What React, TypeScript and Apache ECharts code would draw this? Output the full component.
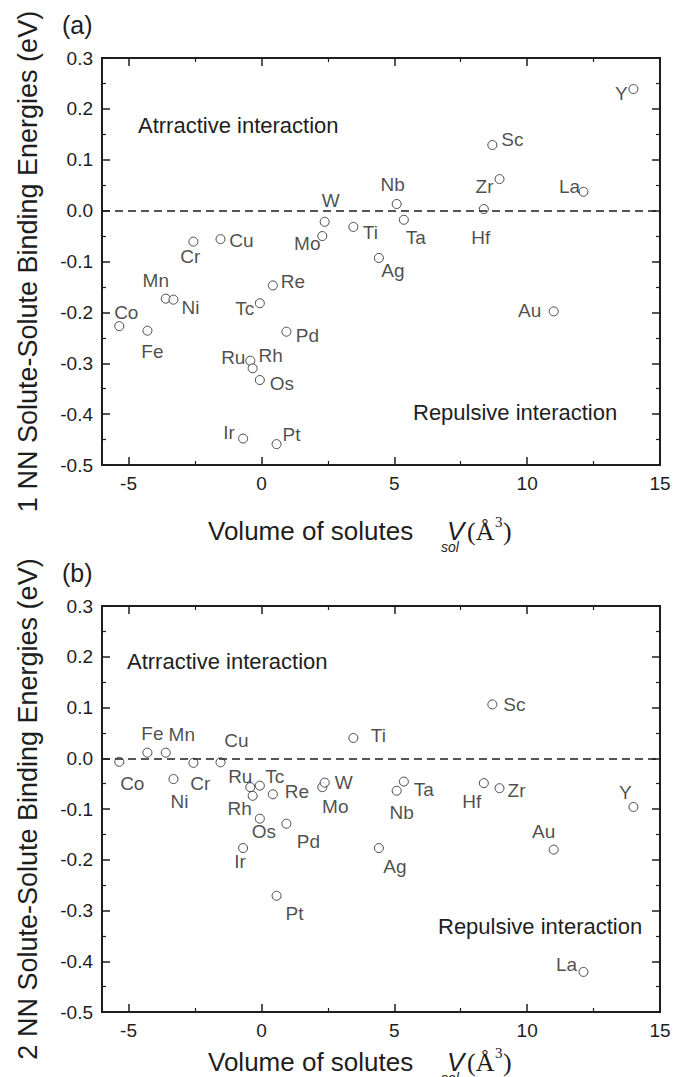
import React, { useEffect, useRef } from "react";
import * as echarts from "echarts";

const elements = ["Co","Fe","Mn","Ni","Cr","Cu","Ru","Rh","Tc","Re","Os","Ir","Pt","Pd","Mo","W","Ti","Ag","Nb","Ta","Hf","Zr","Sc","Au","La","Y"];
const volumes = [-5.35,-4.29,-3.6,-3.31,-2.56,-1.54,-0.42,-0.33,-0.06,0.43,-0.06,-0.69,0.57,0.94,2.29,2.38,3.46,4.42,5.09,5.36,8.37,8.96,8.69,11.0,12.12,14.0];
const energy1NN = [-0.227,-0.236,-0.173,-0.175,-0.061,-0.056,-0.295,-0.31,-0.182,-0.147,-0.333,-0.448,-0.459,-0.238,-0.05,-0.022,-0.032,-0.093,0.013,-0.018,0.003,0.062,0.129,-0.198,0.037,0.239];
const energy2NN = [-0.007,0.011,0.011,-0.041,-0.009,-0.008,-0.057,-0.074,-0.054,-0.071,-0.119,-0.177,-0.271,-0.129,-0.057,-0.048,0.040,-0.177,-0.064,-0.046,-0.049,-0.059,0.106,-0.18,-0.421,-0.096];

const xMajorTicks = [-5, 0, 5, 10, 15];
const xMinorTicks = [-2.5, 2.5, 7.5, 12.5];

// label placement (style), offsets in px from the marker centre
const labelOffsets1: Record<string, number[]> = {
  Co: [7, -14], Fe: [5, 21], Mn: [-10, -18], Ni: [17, 8], Cr: [-3, 15], Cu: [21, 1],
  Ru: [-17, -3], Rh: [18, -13], Tc: [-15, 5], Re: [20, -4], Os: [22, 3], Ir: [-14, -6],
  Pt: [15, -10], Pd: [21, 4], Mo: [-15, 7], W: [6, -21], Ti: [17, 6], Ag: [14, 13],
  Nb: [-4, -20], Ta: [12, 18], Hf: [-3, 28], Zr: [-15, 7], Sc: [20, -5], Au: [-24, -1],
  La: [-14, -5], Y: [-12, 4],
};
const labelOffsets2: Record<string, number[]> = {
  Co: [13, 22], Fe: [5, -19], Mn: [16, -18], Ni: [6, 22], Cr: [7, 21], Cu: [16, -22],
  Ru: [-10, -11], Rh: [-13, 13], Tc: [15, -9], Re: [24, -3], Os: [4, 13], Ir: [-3, 13],
  Pt: [18, 18], Pd: [22, 18], Mo: [13, 19], W: [19, 0], Ti: [25, -2], Ag: [16, 18],
  Nb: [5, 22], Ta: [20, 8], Hf: [-12, 18], Zr: [17, 2], Sc: [22, 0], Au: [-10, -18],
  La: [-17, -7], Y: [-8, -14],
};

const FONT = "'Liberation Sans', Arial, Helvetica, sans-serif";
const SERIF = "'Liberation Serif', 'Times New Roman', serif";
const INK = "#1e1e1e";

const panels = [
  { top: 58, height: 407, energies: energy1NN, offsets: labelOffsets1, tag: "(a)", ytitle: "1 NN Solute-Solute Binding Energies (eV)", attractive: [138, 125], repulsive: [413, 412], xtitleY: 531 },
  { top: 606, height: 406, energies: energy2NN, offsets: labelOffsets2, tag: "(b)", ytitle: "2 NN Solute-Solute Binding Energies (eV)", attractive: [127, 661], repulsive: [438, 926], xtitleY: 1062 },
];

const GRID_LEFT = 102;
const GRID_WIDTH = 558;

function buildOption() {
  const grid: any[] = [];
  const xAxis: any[] = [];
  const yAxis: any[] = [];
  const series: any[] = [];
  const graphic: any[] = [];

  panels.forEach((p, g) => {
    grid.push({ left: GRID_LEFT, top: p.top, width: GRID_WIDTH, height: p.height, containLabel: false });
    const baseX = {
      type: "value", gridIndex: g, min: -6, max: 15,
      splitLine: { show: false },
      axisLine: { show: true, onZero: false, lineStyle: { color: INK, width: 2 } },
    };
    xAxis.push({
      ...baseX, position: "bottom",
      axisTick: { show: true, inside: true, length: 8, customValues: xMajorTicks, lineStyle: { color: INK, width: 1.5 } },
      axisLabel: { show: true, customValues: xMajorTicks, fontSize: 19, color: INK, fontFamily: FONT, margin: 9, formatter: (v: number) => String(v) },
    });
    xAxis.push({
      ...baseX, position: "bottom",
      axisTick: { show: true, inside: true, length: 4, customValues: xMinorTicks, lineStyle: { color: INK, width: 1.2 } },
      axisLabel: { show: false },
    });
    xAxis.push({
      ...baseX, position: "top",
      axisTick: { show: true, inside: true, length: 8, customValues: xMajorTicks, lineStyle: { color: INK, width: 1.5 } },
      axisLabel: { show: false },
    });
    xAxis.push({
      ...baseX, position: "top",
      axisTick: { show: true, inside: true, length: 4, customValues: xMinorTicks, lineStyle: { color: INK, width: 1.2 } },
      axisLabel: { show: false },
    });
    const baseY = {
      type: "value", gridIndex: g, min: -0.5, max: 0.3, interval: 0.1,
      splitLine: { show: false },
      axisLine: { show: true, onZero: false, lineStyle: { color: INK, width: 2 } },
      axisTick: { show: true, inside: true, length: 8, lineStyle: { color: INK, width: 1.5 } },
      minorTick: { show: true, splitNumber: 2, length: 4, lineStyle: { color: INK, width: 1.2 } },
      minorSplitLine: { show: false },
    };
    yAxis.push({
      ...baseY, position: "left",
      axisLabel: {
        show: true, fontSize: 19, color: INK, fontFamily: FONT, margin: 9,
        formatter: (v: number) => (Math.abs(v) < 1e-9 ? "0.0" : v.toFixed(1)),
      },
    });
    yAxis.push({ ...baseY, position: "right", axisLabel: { show: false } });

    series.push({
      type: "scatter",
      xAxisIndex: g * 4,
      yAxisIndex: g * 2,
      symbol: "circle",
      symbolSize: 9,
      itemStyle: { color: "#ffffff", borderColor: INK, borderWidth: 1 },
      label: {
        show: true, position: "inside", formatter: "{b}", fontSize: 19,
        color: INK, fontFamily: FONT, align: "center", verticalAlign: "middle",
      },
      data: elements.map((name, i) => ({
        name,
        value: [volumes[i], p.energies[i]],
        label: { offset: p.offsets[name] },
      })),
      markLine: {
        silent: true,
        symbol: ["none", "none"],
        label: { show: false },
        lineStyle: { type: [8, 5], color: INK, width: 1.5 },
        data: [{ yAxis: 0 }],
      },
      z: 3,
    });

    const centerY = p.top + p.height / 2;
    graphic.push(
      { type: "text", left: 62, top: p.top - 46, style: { text: p.tag, font: `25px ${FONT}`, fill: INK } },
      { type: "text", x: 28, y: centerY, rotation: Math.PI / 2, style: { text: p.ytitle, font: `27px ${FONT}`, fill: INK, align: "center", verticalAlign: "middle" } },
      { type: "text", x: p.attractive[0], y: p.attractive[1], style: { text: "Atrractive interaction", font: `22px ${FONT}`, fill: INK, align: "left", verticalAlign: "middle" } },
      { type: "text", x: p.repulsive[0], y: p.repulsive[1], style: { text: "Repulsive interaction", font: `22px ${FONT}`, fill: INK, align: "left", verticalAlign: "middle" } },
      { type: "text", x: 208, y: p.xtitleY, style: { text: "Volume of solutes", font: `26px ${FONT}`, fill: INK, align: "left", verticalAlign: "middle" } },
      { type: "text", x: 447, y: p.xtitleY, style: { text: "V", font: `italic 26px ${FONT}`, fill: INK, align: "left", verticalAlign: "middle" } },
      { type: "text", x: 441, y: p.xtitleY + 16, style: { text: "sol", font: `italic 14px ${FONT}`, fill: INK, align: "left", verticalAlign: "middle" } },
      { type: "text", x: 467, y: p.xtitleY, style: { text: "(Å", font: `26px ${SERIF}`, fill: INK, align: "left", verticalAlign: "middle" } },
      { type: "text", x: 495, y: p.xtitleY - 9, style: { text: "3", font: `15px ${SERIF}`, fill: INK, align: "left", verticalAlign: "middle" } },
      { type: "text", x: 503, y: p.xtitleY, style: { text: ")", font: `26px ${SERIF}`, fill: INK, align: "left", verticalAlign: "middle" } },
    );
  });

  return {
    animation: false,
    backgroundColor: "#ffffff",
    grid, xAxis, yAxis, series, graphic,
  };
}

export default function App() {
  const ref = useRef<HTMLDivElement>(null);
  useEffect(() => {
    if (!ref.current) return;
    const chart = echarts.init(ref.current, undefined, { renderer: "svg" });
    chart.setOption(buildOption() as any);
    return () => chart.dispose();
  }, []);
  return (
    <div
      ref={ref}
      style={{ position: "absolute", left: 0, top: 0, width: 683, height: 1077, background: "#fff" }}
    />
  );
}
